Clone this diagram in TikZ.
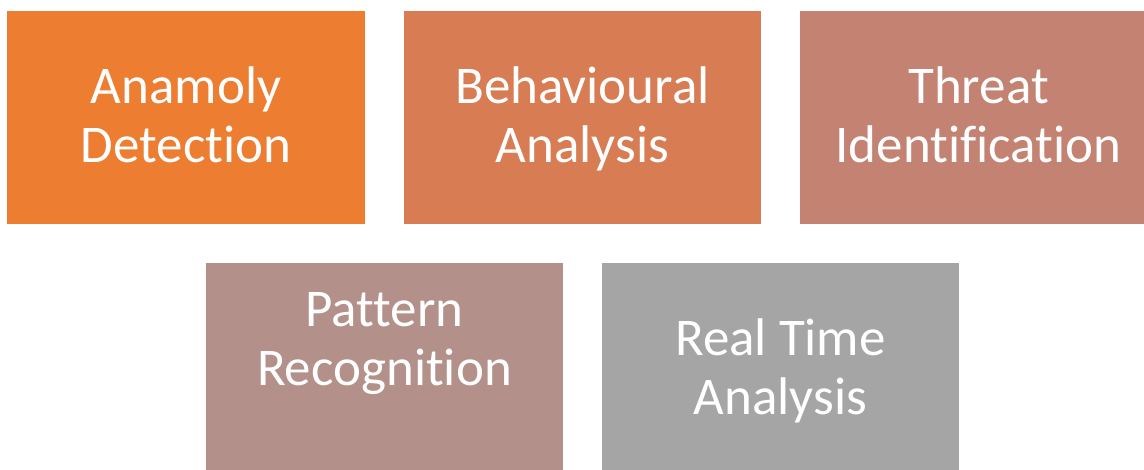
\documentclass[tikz,border=0pt]{standalone}
\usepackage{fontspec}
\setmainfont[Ligatures=NoCommon]{Carlito}
\definecolor{cA}{HTML}{ED7D31}
\definecolor{cB}{HTML}{D87C53}
\definecolor{cC}{HTML}{C48272}
\definecolor{cD}{HTML}{B39089}
\definecolor{cE}{HTML}{A5A5A5}
\tikzset{
  box/.style={inner sep=0pt, outer sep=0pt, draw=none},
  lbl/.style={text=white, align=center, inner sep=0pt,
    font=\fontsize{53}{59}\selectfont, anchor=base}
}
\begin{document}
\begin{tikzpicture}[x=1pt,y=-1pt]
\useasboundingbox (0,0) rectangle (1144,470);
\clip (0,0) rectangle (1144,470);
\fill[cA] (7,11) rectangle (365,224);
\fill[cB] (404,11) rectangle (761,224);
\fill[cC] (800,11) rectangle (1157,224);
\fill[cD] (206,263) rectangle (563,476);
\fill[cE] (602,263) rectangle (959,476);
\node[box] (b1) at (186,117.5) {};
\node[box] (b2) at (582.5,117.5) {};
\node[box] (b3) at (978.5,117.5) {};
\node[box] (b4) at (384.5,369.5) {};
\node[box] (b5) at (780.5,369.5) {};
\node[lbl] (t1) at (186,163) {Anamoly\\Detection};
\node[lbl] (t2) at (582.5,163) {Behavioural\\Analysis};
\node[lbl] (t3) at (978.5,163) {Threat\\Identification};
\node[lbl] (t4) at (384.5,386) {Pattern\\Recognition};
\node[lbl] (t5) at (780.5,415) {Real Time\\Analysis};
\end{tikzpicture}
\end{document}
